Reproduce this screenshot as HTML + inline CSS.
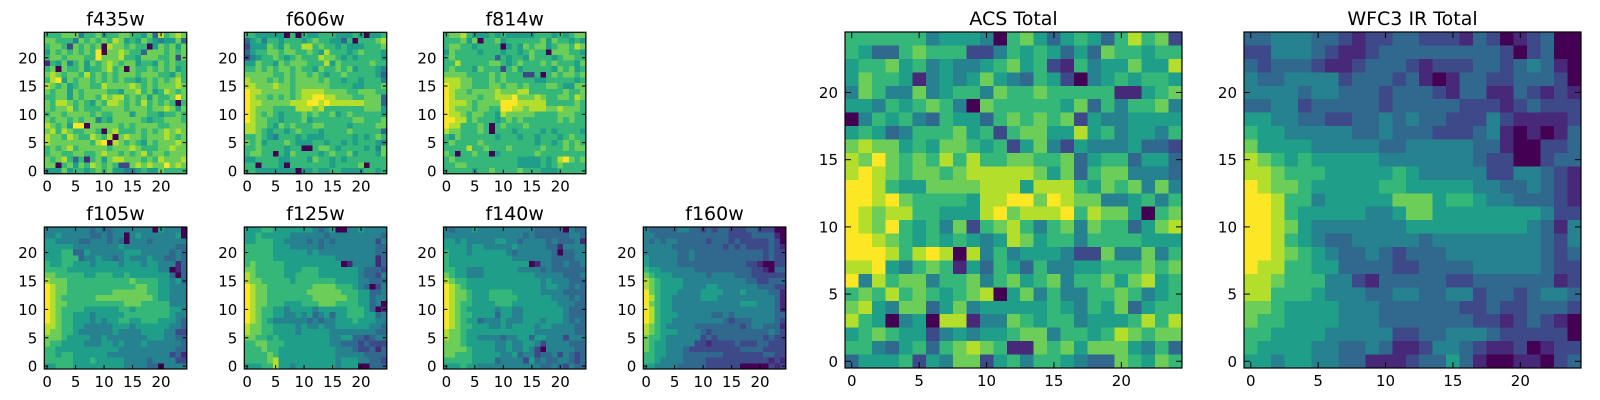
<!DOCTYPE html>
<html><head><meta charset="utf-8"><style>
html,body{margin:0;padding:0;background:#fff;}
svg{display:block;font-family:"DejaVu Sans","Liberation Sans",sans-serif;}
</style></head><body>
<svg id="fig" width="1600" height="400" viewBox="0 0 1600 400" xmlns="http://www.w3.org/2000/svg"></svg>
<script>
const tickValues = [0, 5, 10, 15, 20];
const panelNames = ["f435w","f606w","f814w","f105w","f125w","f140w","f160w","ACS Total","WFC3 IR Total"];
// rows listed from top (y=24) to bottom (y=0); digits are intensity levels 0-9
const f435w = ["6667774667566776657386787","7766647676768756576545573","6776276767087767660576757","5767676769077876637776767","6776777669777866577766727","1657467576787677566576766","6707667566786707667676756","7876776867676777677766576","6895767767676766567676786","8767567766877778767677787","7677576777766577867568767","6677576776878867675766797","7688767657688767686767606","7677867666777767776778757","6776777767667775776656676","7677676774657777765667776","8767599077777676777766777","7868766776078666767678787","8776876687680787767778767","8777777768908767657677787","6767867777767778766677877","6776677667877676786776777","7678636167578877767687778","7706757687676227878779787","5557566567675544565576666"];
const f606w = ["6655555060655666555650556","3564665666567665536066678","2555765766886766565556667","3566776776676586665676665","2456676567666877656566665","5576657677766685766666766","6676767767665766767566654","7777766767767656676666653","8777676767777676656656664","8877787767777776666556667","9887777767888877776677766","9877676767889988777667773","9887777788899898888887773","9877766668887866666667775","9876765666767667567666665","9877665666756666666776667","8877657676667766665666677","8876566567666566667666663","6676546665655566666565676","7675666765556656656566654","6676666566006776566665647","6776606576666567667566657","5566665566657665656666666","6606665066666665666670666","6655555550556556655556656"];
const f814w = ["6778655565655555666565677","6667570667566666675766565","6776656666056576775677687","5766665666566567660777665","6766666663656657666567766","6686666677656766676766657","6766657666267566666576756","7777666676766622606767767","8887766676766666556666656","9887766677677676667765577","9877677778777886666667667","9877776778889777876677687","9888767777999888886666676","9877767766998878887787776","9887677665877777666677766","9988676665676766666676766","9886667606766676666666666","8776667606665666656566665","6576666665666566566656766","6766667666666666566567676","6666866766676666676667677","7606676605666666766666666","6766666666666555565689767","6677666666666555565676666","6666656676666766655566666"];
const f105w = ["4444444434334444444054440","4454444433434404544444450","5544443344434304443444444","5555544444444544444444433","5556633544444455544444343","5556663445443454445443343","6556655545555455545544413","6666555555555555555544013","7766666556665565555555303","8777666666666667666655453","9877666666666666776655444","9877666666667777776655444","9876666667777777777655444","9877666666666677766666444","9876666555555665666666554","9876655545555566666666544","9876655545455665566655543","8876655444445554555555443","8776654444445444455554422","7776555544544444445554433","7665555444554544454444443","6655555555555444444444433","6656655555544444444444231","6666655565555544443444422","5566655555555544443304444"];
const f125w = ["5556655555554345004454444","5565555544444434444444443","5566655444434343444444424","6666655544444344444444433","6666655555545444444444433","6666655555555555444444413","6766666555555555501444413","7766666555666555555543332","8766666556666555555543324","8776666656666666555544333","9877666666667777666543024","9877666666677777766655334","9877666666667777776655344","9877666555666777666655340","9876655455554555556665301","9876655445453453556665534","9876544444434344555655544","8776655554544544555555443","8776655554555554444444433","7766565555555554455332344","6677666555555554433323222","6667665555555555444322313","6666765555555555444443333","6666785555555555455544332","5556685545555555455500333"];
const f140w = ["4344454444444444333330433","4444444444444434333333443","5545444445544344443433341","5555455444445444443314444","6555455555543444444303344","6555555555554444444333344","6555555555555550144334334","6655444555555444434333333","7655444555555555444443334","8766555555555555545444333","9876555555555555545544343","9877655566665555544443333","9877655566666555555444343","9876655556665555555544433","9876555554554455555554333","9876655553554455555554333","9876553444544455545554343","9876655544545555455444433","8776555555555555444444433","8776554444344553554442444","7776555554454455424444333","7777655554454454204444433","7766655555445344233424323","6666655553444425343344323","5556554444444444433432433"];
const f160w = ["4333334433232332223322200","4433333333333332222333310","4343443333323332322222320","4444433333333323232222321","4444443343333333333332322","5444443343333333333332322","5444443333333333332210022","6554444443333333333221033","7655544444434444333222222","8765555444444444443322333","8765555444455444444433322","9765554444555544454444331","9865544444555444444444431","9765544444444444455544431","9865544444444444444444431","9865554444443343444444433","9865544444444432333444432","8765444443333333323443331","8765554444323333333333432","7665444444232333333332322","7655444442212222322233222","7655444322222222233332222","6655444333333322222223322","6654444333322222222222121","5544443333322222200000212"];
const acsTotal = ["6666664555406753565368672","6533676662246565353766566","5667564544567562164557558","5766514545754365204565665","4764474566476676666611567","5546567640766666573646674","0465643655367676725445555","5653466675626775585645546","7877565776562574254445332","8797676868667766735663553","8987677678888875736774443","9986557777888588865767474","9989766665889979877445646","9878866555897888968775067","9879656472678646747663578","9987656565458756646666555","9998689808464555422744746","8895467615365364455666767","9486774667467567466757856","6768676567805746446676456","7854773574555556546573566","8650450881447656645556868","5676552454556774665687677","6643563678761176757775463","3555625477256466543376576"];
const wfc3Total = ["3344433212233222132012300","2244432112333333333202300","3233321123332122233234310","4334444233323101332233320","4444344333233321331132121","3344233333233333222123222","5544332233434332224211112","6554444433433322234101013","7555544444334444433100223","8765655555444444432200233","8876665555565444442244321","9877655555665555544334321","9986645555577756654433321","9986555554457755555555422","9987544444445555555554314","9986543344444344444444324","9987654334323334444444323","9886655333322333344444322","8876664421333332233333312","8866654443344334423323443","7765555444333333223223332","7665555444333333322123210","6655554444422334443222220","6555544334311244321120122","5545544331112335310011023"];
const panelData = [f435w, f606w, f814w, f105w, f125w, f140w, f160w, acsTotal, wfc3Total];

const layout = [
 [44.3,32.3,142.4,141.4],[244.3,32.3,142.4,141.4],[443.5,32.3,142.4,141.4],
 [44.3,227,142.4,142],[244.3,227,142.4,142],[443.5,227,142.4,142],[643.3,227,142.4,142],
 [845,32,337,336],[1244,32,337,336]];

const vir = [[68,1,84],[72,40,120],[62,73,137],[49,104,142],[38,130,142],[31,158,137],[53,183,121],[109,205,89],[180,222,44],[253,231,37]];
function color(t){t=Math.max(0,Math.min(1,t))*9;const i=Math.min(8,Math.floor(t)),f=t-i;const a=vir[i],b=vir[i+1];
 return 'rgb('+a.map((v,k)=>Math.round(v+(b[k]-v)*f)).join(',')+')';}

const NS="http://www.w3.org/2000/svg";
const svg=document.getElementById('fig');
function mk(tag,attrs,parent){const e=document.createElementNS(NS,tag);for(const k in attrs)e.setAttribute(k,attrs[k]);parent.appendChild(e);return e;}

panelData.forEach((rows,p)=>{
 const [x0,y0,w,h]=layout[p];
 const n=25;
 const cw=w/n, ch=h/n;
 const sx=v=>x0+(v+0.5)*cw;
 const sy=v=>y0+(n-0.5-v)*ch;
 const big=p>=7;
 const g=mk('g',{},svg);
 
 
 const grid=mk('g',{'shape-rendering':'crispEdges'},g);
 
 
 rows.forEach((row,ri)=>{
  const yv=n-1-ri;
  for(let c=0;c<n;c++){
   const v=parseInt(row[c]||'5',10);
   const r=mk('rect',{x:(sx(c)-cw/2).toFixed(2),y:(sy(yv)-ch/2).toFixed(2),width:(cw+0.6).toFixed(2),height:(ch+0.6).toFixed(2),fill:color(v/9)},grid);
   
   
  }
 });
 const fr=mk('rect',{x:x0,y:y0,width:w,height:h,fill:'none',stroke:'#000','stroke-width':1.2},g);
 
 
 const tl=big?6:4;
 tickValues.forEach(t=>{
  const xt=sx(t), yt=sy(t);
  mk('line',{x1:xt,y1:y0+h,x2:xt,y2:y0+h-tl,stroke:'#000','stroke-width':1},g);
  mk('line',{x1:xt,y1:y0,x2:xt,y2:y0+tl,stroke:'#000','stroke-width':1},g);
  mk('line',{x1:x0,y1:yt,x2:x0+tl,y2:yt,stroke:'#000','stroke-width':1},g);
  mk('line',{x1:x0+w,y1:yt,x2:x0+w-tl,y2:yt,stroke:'#000','stroke-width':1},g);
  const lx=mk('text',{x:xt,y:y0+h+18,'text-anchor':'middle','font-size':15,fill:'#000'},g);
  lx.textContent=t;
  
  
  const ly=mk('text',{x:x0-7,y:yt+5.5,'text-anchor':'end','font-size':15,fill:'#000'},g);
  ly.textContent=t;
  
  
 });
 const tt=mk('text',{x:x0+w/2,y:y0-7,'text-anchor':'middle','font-size':19,fill:'#000'},g);
 tt.textContent=panelNames[p];
 
 
});
</script>
</body></html>
